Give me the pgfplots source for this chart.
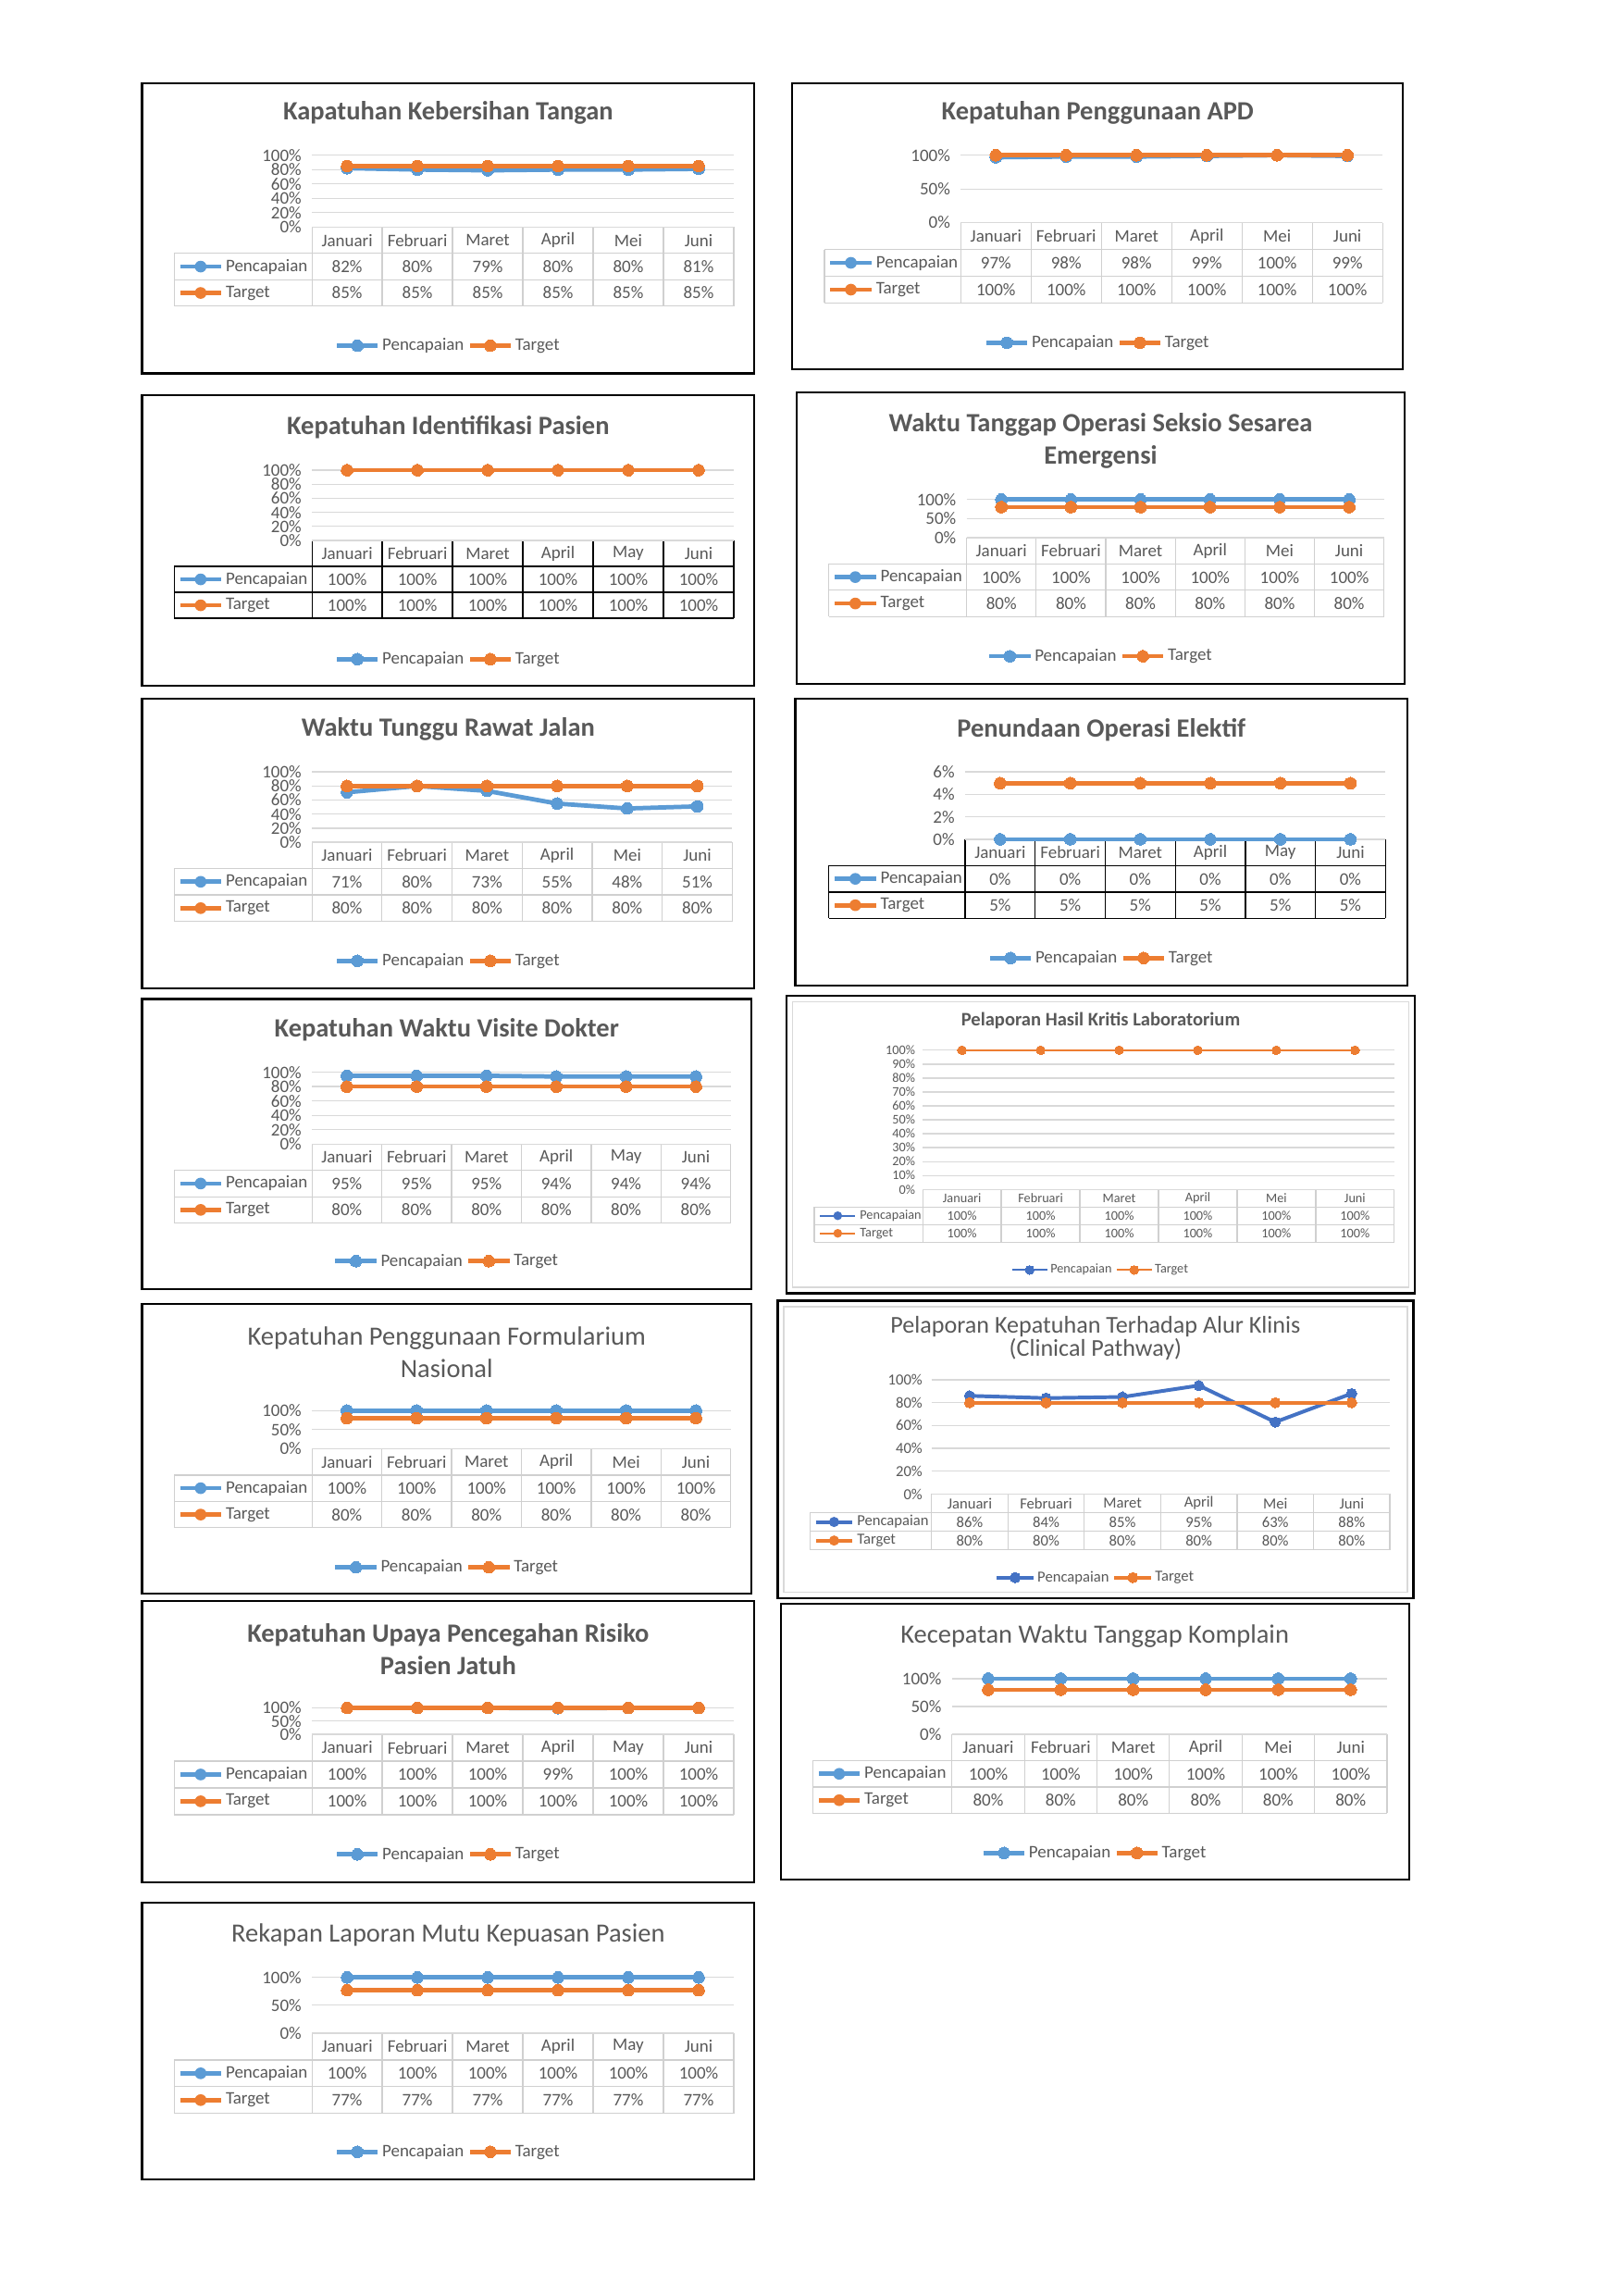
\documentclass[border=0pt]{standalone}
\usepackage{fontspec}
\setmainfont{Carlito}
\usepackage{pgfplots}
\usepackage{pgfplotstable}
\pgfplotsset{compat=1.18}

\definecolor{serblue}{HTML}{5B9BD5}
\definecolor{serdark}{HTML}{4472C4}
\definecolor{serorange}{HTML}{ED7D31}
\definecolor{txt}{HTML}{595959}
\definecolor{gridc}{HTML}{D9D9D9}
\definecolor{tabc}{HTML}{D0D0D0}

% data: month index, Pencapaian, Target (in %)
\pgfplotstableread{
m p t
1 82 85
2 80 85
3 79 85
4 80 85
5 80 85
6 81 85
}\dA
\pgfplotstableread{
m p t
1 97 100
2 98 100
3 98 100
4 99 100
5 100 100
6 99 100
}\dB
\pgfplotstableread{
m p t
1 100 100
2 100 100
3 100 100
4 100 100
5 100 100
6 100 100
}\dC
\pgfplotstableread{
m p t
1 100 80
2 100 80
3 100 80
4 100 80
5 100 80
6 100 80
}\dD
\pgfplotstableread{
m p t
1 71 80
2 80 80
3 73 80
4 55 80
5 48 80
6 51 80
}\dE
\pgfplotstableread{
m p t
1 0 5
2 0 5
3 0 5
4 0 5
5 0 5
6 0 5
}\dF
\pgfplotstableread{
m p t
1 95 80
2 95 80
3 95 80
4 94 80
5 94 80
6 94 80
}\dG
\pgfplotstableread{
m p t
1 100 100
2 100 100
3 100 100
4 100 100
5 100 100
6 100 100
}\dH
\pgfplotstableread{
m p t
1 100 80
2 100 80
3 100 80
4 100 80
5 100 80
6 100 80
}\dI
\pgfplotstableread{
m p t
1 86 80
2 84 80
3 85 80
4 95 80
5 63 80
6 88 80
}\dJ
\pgfplotstableread{
m p t
1 100 100
2 100 100
3 100 100
4 99 100
5 100 100
6 100 100
}\dK
\pgfplotstableread{
m p t
1 100 80
2 100 80
3 100 80
4 100 80
5 100 80
6 100 80
}\dL
\pgfplotstableread{
m p t
1 100 77
2 100 77
3 100 77
4 100 77
5 100 77
6 100 77
}\dM

\pgfkeys{
  /panel/.is family, /panel,
  box/.code args={#1,#2,#3,#4}{\def\bxa{#1}\def\bya{#2}\def\bxb{#3}\def\byb{#4}},
  plot/.code args={#1,#2,#3,#4}{\def\pxa{#1}\def\pxb{#2}\def\pya{#3}\def\pyb{#4}},
  title/.store in=\ptitle,
  titley/.store in=\ptitley,
  tfont/.store in=\ptfont,
  font/.store in=\pfont,
  ymax/.store in=\pymax,
  ystep/.store in=\pystep,
  tx/.store in=\txa,
  rh/.store in=\prh,
  legy/.store in=\plegy,
  mfive/.store in=\pmfive,
  tcol/.store in=\ptcol,
  pcol/.store in=\ppcol,
  lw/.store in=\plw,
  mr/.store in=\pmr,
  key/.store in=\pkey,
  lshift/.store in=\plshift,
  inner/.store in=\pinner,
  defaults/.style={tfont={\fontsize{18}{22}\selectfont\bfseries},
    font={\fontsize{12}{14}\selectfont}, ymax=100, ystep=20, rh=18,
    mfive=Mei, tcol=tabc, pcol=serblue, lw=3, mr=4, key=28, lshift=7, inner=0},
}

\pgfplotsset{
  /pgf/number format/assume math mode=true,
  legend image code/.code={\draw[mark repeat=2,mark phase=2,#1]
    plot coordinates {(0pt,0pt) (\pkeyh pt,0pt) (\pkey pt,0pt)};},
}

\newcommand\drawpanel[2]{%
  \pgfkeys{/panel/.cd,defaults,#1}%
  \pgfmathsetmacro\pw{\pxb-\pxa}%
  \pgfmathsetmacro\ph{\pyb-\pya}%
  \pgfmathsetmacro\cw{\pw/6}%
  \pgfmathsetmacro\bcx{(\bxa+\bxb)/2}%
  \pgfmathsetmacro\pkeyh{\pkey/2}%
  \pgfmathsetmacro\lgx{(\bcx-\pxa)/\pw}%
  \pgfmathsetmacro\lgy{(\pyb-\plegy)/\ph}%
  \pgfmathsetmacro\ra{\pyb+\prh}%
  \pgfmathsetmacro\rb{\pyb+2*\prh}%
  \pgfmathsetmacro\rc{\pyb+3*\prh}%
  \pgfmathsetmacro\yh{(\pyb+\ra)/2}%
  \pgfmathsetmacro\ya{(\ra+\rb)/2}%
  \pgfmathsetmacro\yb{(\rb+\rc)/2}%
  \pgfmathsetmacro\kx{\txa+4}%
  \pgfmathsetmacro\kxe{\txa+4+\pkey}%
  \pgfmathsetmacro\kxm{\txa+4+\pkey/2}%
  \pgfmathsetmacro\lx{\txa+7+\pkey}%
  \draw[line width=1.4pt, fill=white] (\bxa,-\bya) rectangle (\bxb,-\byb);
  \ifnum\pinner=1
    \draw[gridc, line width=1pt] (\bxa+4,-\bya-4) rectangle (\bxb-4,-\byb+4);
  \fi
  \node[font=\ptfont, text=txt, align=center] at (\bcx,-\ptitley) {\ptitle};
  % data table
  \begin{scope}[draw=\ptcol, line width=0.8pt]
    \draw (\pxa,-\pyb) -- (\pxb,-\pyb);
    \draw (\txa,-\ra) -- (\pxb,-\ra);
    \draw (\txa,-\rb) -- (\pxb,-\rb);
    \draw (\txa,-\rc) -- (\pxb,-\rc);
    \draw (\txa,-\ra) -- (\txa,-\rc);
    \foreach \k in {0,...,6} \draw ({\pxa+\k*\cw},-\pyb) -- ({\pxa+\k*\cw},-\rc);
  \end{scope}
  \foreach \k/\mn in {0/Januari,1/Februari,2/Maret,3/April,4/\pmfive,5/Juni}
    \node[font=\pfont, text=txt] at ({\pxa+(\k+0.5)*\cw},-\yh) {\mn};
  \foreach \k in {0,...,5}{%
    \pgfplotstablegetelem{\k}{p}\of#2%
    \node[font=\pfont, text=txt] at ({\pxa+(\k+0.5)*\cw},-\ya) {\pgfplotsretval\%};
    \pgfplotstablegetelem{\k}{t}\of#2%
    \node[font=\pfont, text=txt] at ({\pxa+(\k+0.5)*\cw},-\yb) {\pgfplotsretval\%};
  }
  \draw[\ppcol, line width=\plw pt] (\kx,-\ya) -- (\kxe,-\ya);
  \fill[\ppcol] (\kxm,-\ya) circle[radius=\pmr pt];
  \node[font=\pfont, text=txt, anchor=west, inner sep=0pt] at (\lx,-\ya) {Pencapaian};
  \draw[serorange, line width=\plw pt] (\kx,-\yb) -- (\kxe,-\yb);
  \fill[serorange] (\kxm,-\yb) circle[radius=\pmr pt];
  \node[font=\pfont, text=txt, anchor=west, inner sep=0pt] at (\lx,-\yb) {Target};
  % chart
  \begin{axis}[at={(\pxa pt,-\pya pt)}, anchor=north west, scale only axis,
    width=\pw pt, height=\ph pt,
    xmin=0.5, xmax=6.5, ymin=0, ymax=\pymax,
    xtick=\empty, ytick distance=\pystep, scaled y ticks=false,
    axis line style={draw=none}, major tick length=0pt,
    ymajorgrids, grid style={gridc, line width=0.8pt},
    yticklabel={\pgfmathprintnumber{\tick}\%},
    yticklabel style={font=\pfont, text=txt, inner sep=0pt, xshift=-\plshift pt},
    clip=false,
    legend style={at={(\lgx,\lgy)}, anchor=center, draw=none, fill=none,
      font=\pfont, text=txt, legend columns=2, nodes={inner sep=1.5pt},
      /tikz/every even column/.append style={column sep=1pt}},
    ]
    \addplot[color=\ppcol, line width=\plw pt, mark=*, mark size=\pmr pt,
      mark options={line width=0pt}] table[x=m,y=p]{#2};
    \addplot[color=serorange, line width=\plw pt, mark=*, mark size=\pmr pt,
      mark options={line width=0pt}] table[x=m,y=t]{#2};
    \legend{Pencapaian,Target}
  \end{axis}
}

\begin{document}
\begin{tikzpicture}[x=1pt,y=1pt]
\fill[white] (0,0) rectangle (1108,-1567.5);

\drawpanel{box={97,57,515,255}, title={Kapatuhan Kebersihan Tangan}, titley=77,
  plot={213,501,106,155}, tx=119, legy=236}{\dA}
\drawpanel{box={541,57,958,252}, title={Kepatuhan Penggunaan APD}, titley=77,
  plot={656,944,106,152}, ystep=50, tx=563, rh=18.3, legy=234}{\dB}
\drawpanel{box={97,270,515,468}, title={Kepatuhan Identifikasi Pasien}, titley=292,
  plot={213,501,321,369}, tx=119, rh=17.7, legy=450, mfive=May, tcol=black}{\dC}
\drawpanel{box={544,268,959,467}, title={Waktu Tanggap Operasi Seksio Sesarea\\Emergensi}, titley=301,
  plot={660,945,341,367}, ystep=50, tx=566, legy=448}{\dD}
\drawpanel{box={97,477,515,675}, title={Waktu Tunggu Rawat Jalan}, titley=498,
  plot={213,500,527,575}, tx=119, legy=656}{\dE}
\drawpanel{box={543,477,961,673}, title={Penundaan Operasi Elektif}, titley=498,
  plot={659,946,527,573}, ymax=6, ystep=2, tx=566, legy=654, mfive=May, tcol=black}{\dF}
\drawpanel{box={97,682,513,880}, title={Kepatuhan Waktu Visite Dokter}, titley=703,
  plot={213,499,732,781}, tx=119, legy=861, mfive=May}{\dG}
\drawpanel{box={537,680,966,883}, title={Pelaporan Hasil Kritis Laboratorium}, titley=697,
  tfont={\fontsize{13}{15}\selectfont\bfseries}, font={\fontsize{9}{10}\selectfont},
  plot={630,952,717,812}, ystep=10, tx=556, rh=12, legy=867,
  pcol=serdark, lw=1.5, mr=3, key=24, lshift=5, inner=1}{\dH}
\drawpanel{box={97,890,513,1088}, title={Kepatuhan Penggunaan Formularium\\Nasional}, titley=923,
  tfont={\fontsize{18}{22}\selectfont},
  plot={213,499,963,989}, ystep=50, tx=119, legy=1070}{\dI}
\drawpanel{box={531,888,965,1091}, title={Pelaporan Kepatuhan Terhadap Alur Klinis\\(Clinical Pathway)}, titley=913.5,
  tfont={\fontsize{16.5}{15.5}\selectfont}, font={\fontsize{10.5}{11}\selectfont},
  plot={636,949,942,1020}, tx=553, rh=12.7, legy=1077,
  pcol=serdark, lw=2.5, mr=3.5, key=25, lshift=6, inner=1}{\dJ}
\drawpanel{box={97,1093,515,1285}, title={Kepatuhan Upaya Pencegahan Risiko\\Pasien Jatuh}, titley=1126,
  plot={213,501,1166,1184}, ystep=50, tx=119, rh=18.3, legy=1266, mfive=May}{\dK}
\drawpanel{box={533,1095,962,1283}, title={Kecepatan Waktu Tanggap Komplain}, titley=1117,
  tfont={\fontsize{18}{22}\selectfont},
  plot={650,947,1146,1184}, ystep=50, tx=555, legy=1265}{\dL}
\drawpanel{box={97,1299,515,1488}, title={Rekapan Laporan Mutu Kepuasan Pasien}, titley=1321,
  tfont={\fontsize{18}{22}\selectfont},
  plot={213,501,1350,1388}, ystep=50, tx=119, rh=18.3, legy=1469, mfive=May}{\dM}
\end{tikzpicture}
\end{document}
